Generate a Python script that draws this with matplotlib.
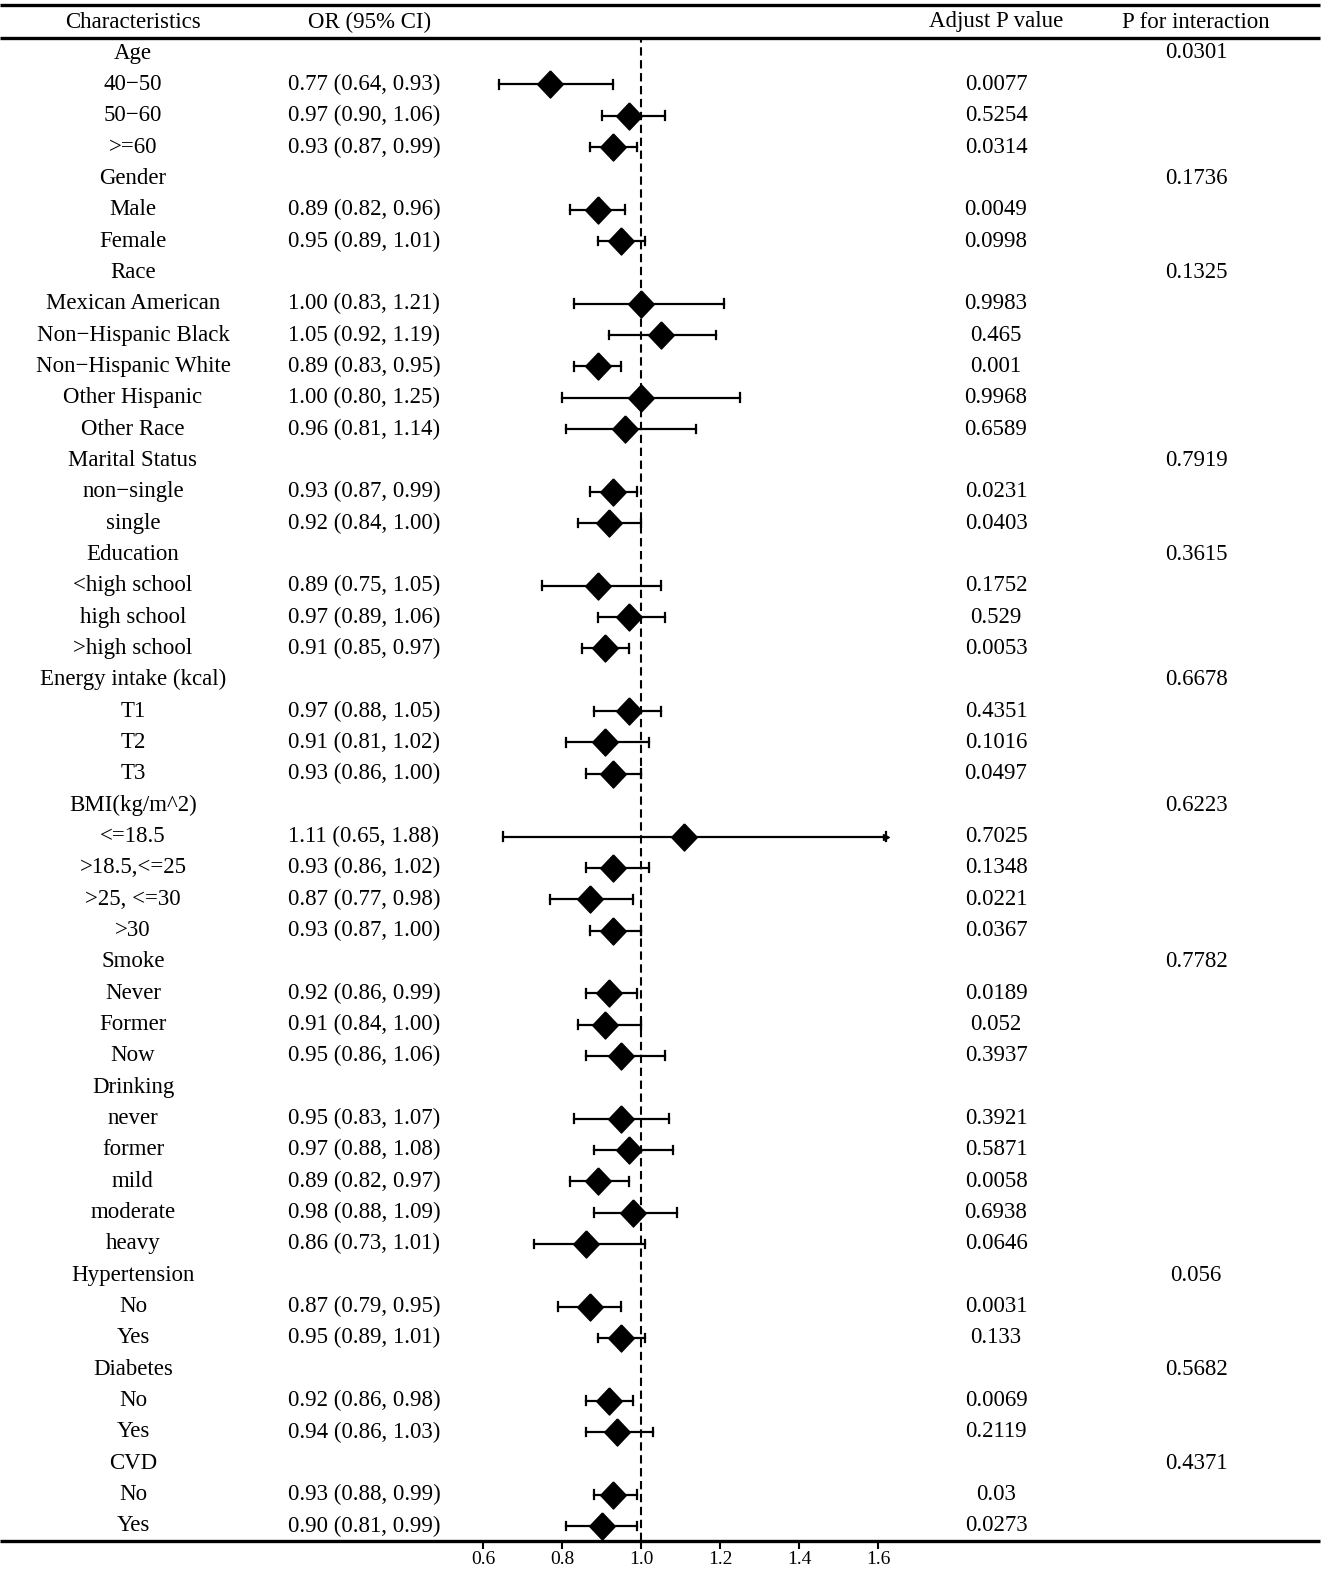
import numpy as np
import matplotlib
matplotlib.use("Agg")
import matplotlib.pyplot as plt

plt.rcParams['font.family'] = ['Liberation Serif', 'DejaVu Serif']

# table data (None = group header row)
labels = ["Age", "40\u221250", "50\u221260", ">=60",
          "Gender", "Male", "Female",
          "Race", "Mexican American", "Non\u2212Hispanic Black", "Non\u2212Hispanic White",
          "Other Hispanic", "Other Race",
          "Marital Status", "non\u2212single", "single",
          "Education", "<high school", "high school", ">high school",
          "Energy intake (kcal)", "T1", "T2", "T3",
          "BMI(kg/m^2)", "<=18.5", ">18.5,<=25", ">25, <=30", ">30",
          "Smoke", "Never", "Former", "Now",
          "Drinking", "never", "former", "mild", "moderate", "heavy",
          "Hypertension", "No", "Yes",
          "Diabetes", "No", "Yes",
          "CVD", "No", "Yes"]
or_est = [None, 0.77, 0.97, 0.93,
          None, 0.89, 0.95,
          None, 1.00, 1.05, 0.89, 1.00, 0.96,
          None, 0.93, 0.92,
          None, 0.89, 0.97, 0.91,
          None, 0.97, 0.91, 0.93,
          None, 1.11, 0.93, 0.87, 0.93,
          None, 0.92, 0.91, 0.95,
          None, 0.95, 0.97, 0.89, 0.98, 0.86,
          None, 0.87, 0.95,
          None, 0.92, 0.94,
          None, 0.93, 0.90]
ci_lo = [None, 0.64, 0.90, 0.87,
         None, 0.82, 0.89,
         None, 0.83, 0.92, 0.83, 0.80, 0.81,
         None, 0.87, 0.84,
         None, 0.75, 0.89, 0.85,
         None, 0.88, 0.81, 0.86,
         None, 0.65, 0.86, 0.77, 0.87,
         None, 0.86, 0.84, 0.86,
         None, 0.83, 0.88, 0.82, 0.88, 0.73,
         None, 0.79, 0.89,
         None, 0.86, 0.86,
         None, 0.88, 0.81]
ci_hi = [None, 0.93, 1.06, 0.99,
         None, 0.96, 1.01,
         None, 1.21, 1.19, 0.95, 1.25, 1.14,
         None, 0.99, 1.00,
         None, 1.05, 1.06, 0.97,
         None, 1.05, 1.02, 1.00,
         None, 1.88, 1.02, 0.98, 1.00,
         None, 0.99, 1.00, 1.06,
         None, 1.07, 1.08, 0.97, 1.09, 1.01,
         None, 0.95, 1.01,
         None, 0.98, 1.03,
         None, 0.99, 0.99]
p_adj = ["", "0.0077", "0.5254", "0.0314",
         "", "0.0049", "0.0998",
         "", "0.9983", "0.465", "0.001", "0.9968", "0.6589",
         "", "0.0231", "0.0403",
         "", "0.1752", "0.529", "0.0053",
         "", "0.4351", "0.1016", "0.0497",
         "", "0.7025", "0.1348", "0.0221", "0.0367",
         "", "0.0189", "0.052", "0.3937",
         "", "0.3921", "0.5871", "0.0058", "0.6938", "0.0646",
         "", "0.0031", "0.133",
         "", "0.0069", "0.2119",
         "", "0.03", "0.0273"]
p_int = ["0.0301", "", "", "",
         "0.1736", "", "",
         "0.1325", "", "", "", "", "",
         "0.7919", "", "",
         "0.3615", "", "", "",
         "0.6678", "", "", "",
         "0.6223", "", "", "", "",
         "0.7782", "", "", "",
         "", "", "", "", "", "",
         "0.056", "", "",
         "0.5682", "", "",
         "0.4371", "", ""]
headers = ["Characteristics", "OR (95% CI)", "Adjust P value", "P for interaction"]
xticks = [0.6, 0.8, 1.0, 1.2, 1.4, 1.6]

W, H = 1325, 1587
n = len(labels)
row0, dy = 53.0, 31.34          # pixel y of first row, row spacing
rule_top, rule_hdr, rule_bot = 5, 38, 1541
x_clip = 1.62                   # right end of drawn CI

fig = plt.figure(figsize=(W / 100, H / 100), dpi=100)

# full-figure axes in pixel coordinates for the table
ax = fig.add_axes([0, 0, 1, 1])
ax.set_xlim(0, W)
ax.set_ylim(H, 0)
ax.axis("off")

fs = 16.5
col_x = [133, 364, 996, 1196]
for cx, h in zip([133, 370, 996, 1196], headers):
    ax.text(cx, 22, h, ha="center", va="center", fontsize=fs)

for i in range(n):
    y = row0 + i * dy
    ax.text(col_x[0], y, labels[i], ha="center", va="center", fontsize=fs)
    if or_est[i] is not None:
        ax.text(col_x[1], y, f"{or_est[i]:.2f} ({ci_lo[i]:.2f}, {ci_hi[i]:.2f})",
                ha="center", va="center", fontsize=fs)
    ax.text(col_x[2], y, p_adj[i], ha="center", va="center", fontsize=fs)
    ax.text(col_x[3], y, p_int[i], ha="center", va="center", fontsize=fs)

for yy in (rule_top, rule_hdr, rule_bot):
    ax.plot([0, 1320], [yy, yy], color="black", lw=2.4, solid_capstyle="butt")

# forest axes: x = OR, y = row index
px0, px1 = 641 - 0.6 * 395, 641 + 0.7 * 395   # pixel x of OR 0.4 and 1.7
fx = fig.add_axes([px0 / W, 1 - rule_bot / H, (px1 - px0) / W, (rule_bot - rule_hdr) / H])
fx.set_xlim(0.4, 1.7)
fx.set_ylim((rule_bot - row0) / dy, (rule_hdr - row0) / dy)
fx.patch.set_alpha(0)
for s in fx.spines.values():
    s.set_visible(False)
fx.set_yticks([])
fx.set_xticks(xticks)
fx.set_xticklabels([f"{t:.1f}" for t in xticks], fontsize=14)
fx.tick_params(axis="x", direction="out", length=6, width=1.5, pad=1)

fx.axvline(1.0, color="black", lw=1.5, ls=(0, (4, 2.2)), zorder=1)

diamond = [(0, 1), (0.95, 0), (0, -1), (-0.95, 0), (0, 1)]
for i in range(n):
    if or_est[i] is None:
        continue
    lo, hi, est = ci_lo[i], ci_hi[i], or_est[i]
    hi_d = min(hi, x_clip)
    fx.plot([lo, hi_d], [i, i], color="black", lw=1.6, zorder=2)
    fx.plot([lo, lo], [i - 0.14, i + 0.14], color="black", lw=1.6, zorder=2)
    fx.plot([hi_d, hi_d], [i - 0.14, i + 0.14], color="black", lw=1.6, zorder=2)
    if hi > x_clip:
        fx.plot([hi_d], [i], marker=">", color="black", markersize=5, zorder=2)
    fx.plot([est], [i], marker=diamond, color="black", markersize=19.5, zorder=3)

fig.savefig("out.png", dpi=100)
